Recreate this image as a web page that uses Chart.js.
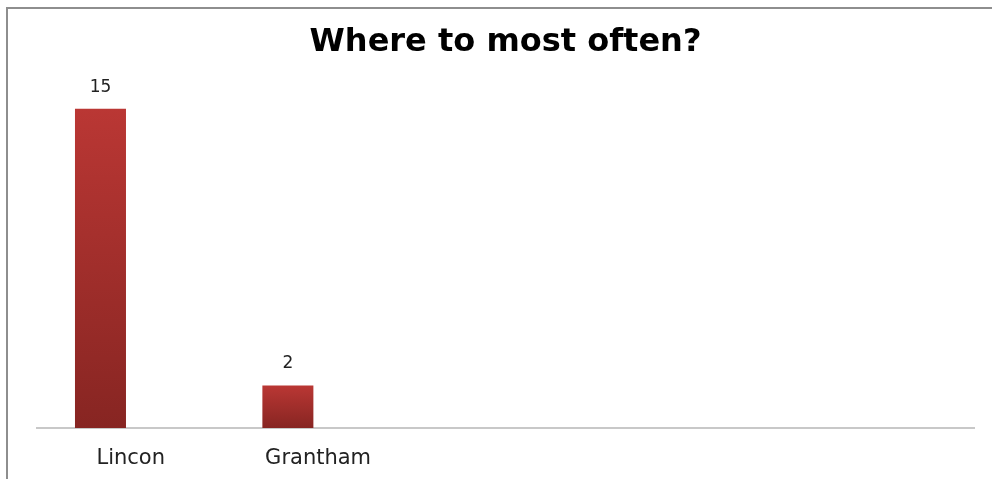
<!DOCTYPE html>
<html>
<head>
<meta charset="utf-8">
<script src="https://cdn.jsdelivr.net/npm/chart.js@4"></script>
<style>
  body { margin: 0; background: #fff; overflow: hidden; }
  #wrap { position: relative; width: 992px; height: 479px; }
  #frame { position: absolute; left: 6px; top: 7px; width: 1000px; height: 500px;
           border-top: 2px solid #8e8e8e; border-left: 2px solid #8e8e8e; }
  canvas { position: absolute; left: 0; top: 0; }
</style>
</head>
<body>
<div id="wrap">
  <div id="frame"></div>
  <canvas id="grafico"></canvas>
</div>
<script>
// dados
const categorias = ['Lincon', 'Grantham', '', '', ''];
const valores = [15, 2, null, null, null];
const serieVazia = [null, null, null, null, null];
const titulo = 'Where to most often?';

function corBarra(context) {
  const chart = context.chart;
  if (!chart.chartArea || context.raw == null) return '#b03430';
  const y = chart.scales.y;
  const topo = y.getPixelForValue(context.raw);
  const base = y.getPixelForValue(0);
  const g = chart.ctx.createLinearGradient(0, topo, 0, base);
  g.addColorStop(0, '#ba3734');
  g.addColorStop(1, '#872522');
  return g;
}

// escreve o valor em cima de cada barra
const rotulos = {
  id: 'rotulos',
  afterDatasetsDraw(chart) {
    const ctx = chart.ctx;
    const meta = chart.getDatasetMeta(0);
    ctx.save();
    ctx.font = '17px "DejaVu Sans"';
    ctx.fillStyle = '#222';
    ctx.textAlign = 'center';
    ctx.textBaseline = 'bottom';
    meta.data.forEach(function (bar, i) {
      const v = chart.data.datasets[0].data[i];
      if (v == null) return;
      ctx.fillText(v, bar.x, bar.y - 13);
    });
    ctx.restore();
  }
};

new Chart(document.getElementById('grafico'), {
  type: 'bar',
  data: {
    labels: categorias,
    datasets: [
      { data: valores, backgroundColor: corBarra, categoryPercentage: 0.645, barPercentage: 0.844 },
      { data: serieVazia, categoryPercentage: 0.645, barPercentage: 0.844 }
    ]
  },
  options: {
    responsive: true,
    maintainAspectRatio: false,
    animation: false,
    layout: { padding: { left: 37, right: 18, top: 0, bottom: 10 } },
    plugins: {
      legend: { display: false },
      tooltip: { enabled: false },
      title: {
        display: true,
        text: titulo,
        color: '#000',
        font: { family: '"DejaVu Sans"', size: 32, weight: 'bold', lineHeight: 1.2 },
        padding: { top: 23, bottom: 26 }
      }
    },
    scales: {
      x: {
        grid: { display: false, drawTicks: false },
        border: { display: true, color: '#c8c8c8', width: 2 },
        ticks: { color: '#222', padding: 18, font: { family: '"DejaVu Sans"', size: 21 } },
        afterFit: function (scale) { scale.height = 41; }
      },
      y: {
        display: false,
        min: 0,
        max: 16
      }
    }
  },
  plugins: [rotulos]
});
</script>
</body>
</html>
